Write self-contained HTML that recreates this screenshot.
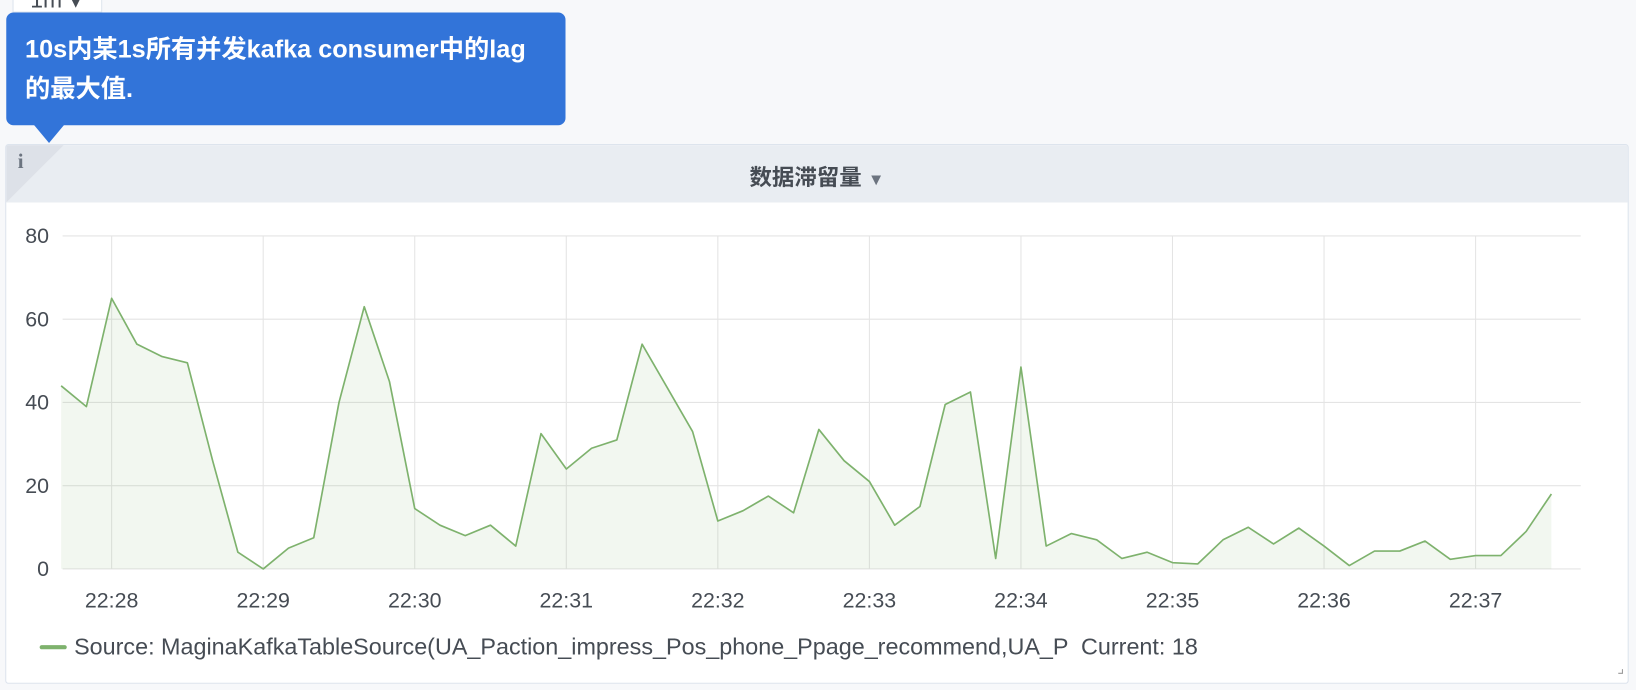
<!DOCTYPE html>
<html><head><meta charset="utf-8">
<style>
html,body{margin:0;padding:0;width:1636px;height:690px;overflow:hidden;background:#f7f8fa;}
#wrap{position:absolute;left:0;top:0;width:1568px;height:661px;transform-origin:0 0;transform:scale(1.04337,1.0439);font-family:"Liberation Sans","Noto Sans CJK SC",sans-serif;}
.t{position:absolute;}
</style></head><body>
<div id="wrap">
  <div class="t" style="left:12px;top:-14px;width:86px;height:26px;background:#fff;border:1px solid #dde4ed;font-size:22px;color:#464c54;padding-left:16px;box-sizing:border-box;line-height:26px;">1m <span style="font-size:14px">▼</span></div>
  <div class="t" style="left:6px;top:12px;width:536px;height:108px;background:#3274d9;border-radius:7px;color:#fff;font-weight:bold;font-size:24.2px;line-height:38px;padding:17px 18px;box-sizing:border-box;">10s内某1s所有并发kafka consumer中的lag<br>的最大值.</div>
  <div class="t" style="left:32px;top:119px;width:0;height:0;border-left:15px solid transparent;border-right:15px solid transparent;border-top:18px solid #3274d9;"></div>
  <div class="t" style="left:5px;top:138px;width:1556px;height:517px;background:#fff;border:1px solid #dde4ed;border-radius:3px;box-sizing:border-box;overflow:hidden;">
    <div class="t" style="left:0;top:0;width:100%;height:55px;background:#e9edf2;"></div>
    <div class="t" style="left:0;top:0;width:0;height:0;border-top:55px solid #dde1e8;border-right:55px solid transparent;"></div>
    <div class="t" style="left:11px;top:5px;font-family:'Liberation Serif',serif;font-weight:bold;font-size:20px;color:#6c7480;">i</div>
    <div class="t" style="left:0;width:100%;top:14px;text-align:center;font-size:21.5px;font-weight:bold;color:#464c54;">数据滞留量 <span style="font-size:16px;color:#6c7480">▼</span></div>
  </div>
  <svg class="t" style="left:0;top:0" width="1568" height="661">
    <g id="grid"></g><g id="series"></g><g id="labels"></g>
    <line x1="40" y1="620" x2="62" y2="620" stroke="#7eb26d" stroke-width="4" stroke-linecap="round"/>
    <text x="71" y="627" font-size="22.4" fill="#464c54" xml:space="preserve">Source: MaginaKafkaTableSource(UA_Paction_impress_Pos_phone_Ppage_recommend,UA_P  Current: 18</text>
    <path d="M1555 641 L1555 645 L1551 645" stroke="#999" fill="none"/>
  </svg>
</div>
<script>
const yTicks=[0,20,40,60,80];
const xTickLabels=["22:28","22:29","22:30","22:31","22:32","22:33","22:34","22:35","22:36","22:37"];
const startSec=-20; // first point at 22:27:40
const stepSec=10;
const values=[44,39,65,54,51,49.5,26,4,0,5,7.5,40,63,45,14.5,10.5,8,10.5,5.5,32.5,24,29,31,54,43.5,33,11.5,14,17.5,13.5,33.5,26,21,10.5,15,39.5,42.5,2.5,48.5,5.5,8.5,7,2.5,4,1.5,1.2,7,10,6,9.8,5.5,0.8,4.3,4.3,6.7,2.3,3.2,3.2,9,18];
const NS='http://www.w3.org/2000/svg';
const y=v=>545-v*(319/80);
const x=s=>107+s*(145.25/60);
const grid=document.getElementById('grid'),ser=document.getElementById('series'),lab=document.getElementById('labels');
function mk(tag,attrs,parent){const e=document.createElementNS(NS,tag);for(const k in attrs)e.setAttribute(k,attrs[k]);parent.appendChild(e);return e;}
yTicks.forEach(v=>{
  const l=mk('line',{x1:60,x2:1515,y1:y(v),y2:y(v),stroke:'#e4e4e4'},grid);
  
  
  const t=mk('text',{x:47,y:y(v)+7,'text-anchor':'end','font-size':20.5,fill:'#464c54'},lab);
  t.textContent=v;
  
  
});
xTickLabels.forEach((s,i)=>{
  const px=x(i*60);
  const l=mk('line',{x1:px,x2:px,y1:226,y2:545,stroke:'#e4e4e4'},grid);
  
  
  const t=mk('text',{x:px,y:582,'text-anchor':'middle','font-size':20.5,fill:'#464c54'},lab);
  t.textContent=s;
  
  
});
const pts=values.map((v,i)=>[x(startSec+i*stepSec),y(v)]);
const line=pts.map((p,i)=>(i?'L':'M')+p[0].toFixed(1)+' '+p[1].toFixed(1)).join(' ');
const area=mk('path',{d:line+` L${pts[pts.length-1][0]} ${y(0)} L${pts[0][0]} ${y(0)} Z`,fill:'rgba(126,178,109,0.1)'},ser);


const ln=mk('path',{d:line,fill:'none',stroke:'#7eb26d','stroke-width':1.6,'stroke-linejoin':'round'},ser);


</script>
</body></html>
